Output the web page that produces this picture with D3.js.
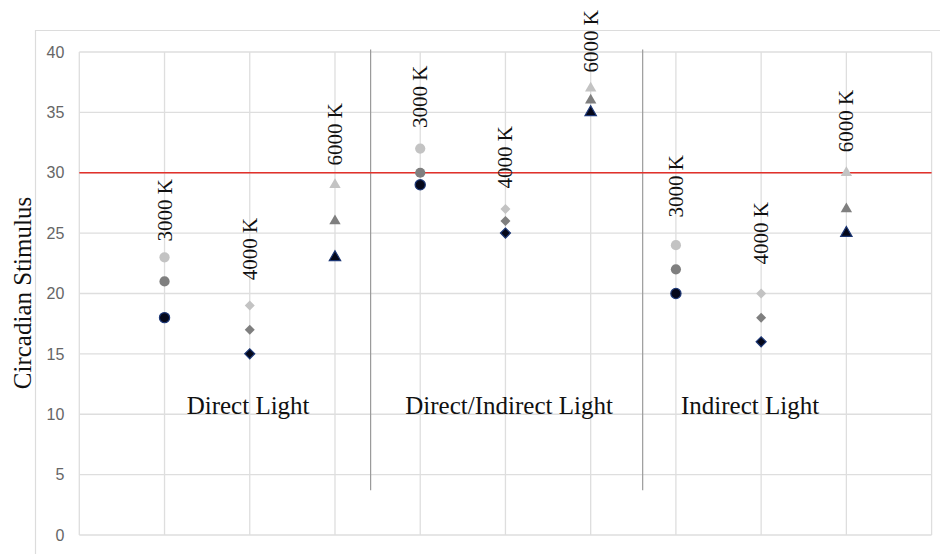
<!DOCTYPE html>
<html>
<head>
<meta charset="utf-8">
<script src="https://cdn.jsdelivr.net/npm/d3@7"></script>
<style>
  html, body { margin: 0; padding: 0; background: #fff; }
  svg { display: block; }
</style>
</head>
<body>
<svg id="chart" width="940" height="554"></svg>
<script>
// ---- data ----
const groups = ["Direct Light", "Direct/Indirect Light", "Indirect Light"];
const temps = ["3000 K", "4000 K", "6000 K", "3000 K", "4000 K", "6000 K", "3000 K", "4000 K", "6000 K"];
const columns = [1, 2, 3, 4, 5, 6, 7, 8, 9];
const seriesLight = [23, 19, 29, 32, 27, 37, 24, 20, 30];
const seriesMid   = [21, 17, 26, 30, 26, 36, 22, 18, 27];
const seriesDark  = [18, 15, 23, 29, 25, 35, 20, 16, 25];
const labelAt     = [24.3, 21.1, 30.6, 33.7, 28.7, 38.3, 26.3, 22.4, 31.7];
const groupLabelX = [1.26, 3.825, 7.06];
const groupLabelY = 10;
const dividers    = [3.418, 6.61];
const dividerRange = [3.7, 40.2];
const yTicks = [0, 5, 10, 15, 20, 25, 30, 35, 40];
const threshold = 30;
const yTitle = "Circadian Stimulus";

// ---- layout ----
const svg = d3.select("#chart");
const mLeft = 79.3, mRight = 931.6, mTop = 52, mBottom = 535;
const x = d3.scaleLinear().domain([0, 10]).range([mLeft, mRight]);
const y = d3.scaleLinear().domain([0, 40]).range([mBottom, mTop]);
const serif = "'Liberation Serif','Times New Roman',Times,serif";
const sans = "'Liberation Sans',Arial,Helvetica,sans-serif";

// outer frame
svg.append("line").attr("x1", 36).attr("x2", 940).attr("y1", 30.5).attr("y2", 30.5)
  .attr("stroke", "#dcdcdc").attr("stroke-width", 1.2);
svg.append("line").attr("x1", 35.5).attr("x2", 35.5).attr("y1", 30).attr("y2", 554)
  .attr("stroke", "#dcdcdc").attr("stroke-width", 1.2);

// horizontal grid
svg.append("g").selectAll("line").data(yTicks).join("line")
  .attr("x1", mLeft).attr("x2", mRight)
  .attr("y1", d => y(d)).attr("y2", d => y(d))
  .attr("stroke", "#dedede").attr("stroke-width", 1.3);

// vertical grid
svg.append("g").selectAll("line").data(d3.range(0, 11)).join("line")
  .attr("x1", d => x(d)).attr("x2", d => x(d))
  .attr("y1", mTop).attr("y2", mBottom)
  .attr("stroke", "#dedede").attr("stroke-width", 1.3);

// y axis tick labels
const yAxis = d3.axisLeft(y).tickValues(yTicks).tickSize(0).tickPadding(15);
const ga = svg.append("g").attr("transform", `translate(${mLeft},0)`).call(yAxis);
ga.select(".domain").remove();
ga.selectAll("text").attr("font-family", sans).attr("font-size", 16).attr("fill", "#666");

// y title
svg.append("text")
  .attr("transform", `translate(31,${(y(0) + y(40)) / 2 - 0.5}) rotate(-90)`)
  .attr("text-anchor", "middle")
  .attr("font-family", serif).attr("font-size", 25).attr("fill", "#111")
  .text(yTitle);

// dividers
svg.append("g").selectAll("line").data(dividers).join("line")
  .attr("x1", d => x(d)).attr("x2", d => x(d))
  .attr("y1", y(dividerRange[1])).attr("y2", y(dividerRange[0]))
  .attr("stroke", "#9a9a9a").attr("stroke-width", 1.2);

// threshold line
svg.append("line").attr("x1", mLeft).attr("x2", mRight)
  .attr("y1", y(threshold)).attr("y2", y(threshold))
  .attr("stroke", "#e2312b").attr("stroke-width", 1.3);

// markers
const shapeFor = i => [d3.symbolCircle, d3.symbolSquare, d3.symbolTriangle][i % 3];
const sizeFor = i => [82, 50, 56][i % 3];
const rotFor = i => (i % 3 === 1 ? 45 : 0);
const series = [
  { values: seriesLight, fill: "#c3c3c3", stroke: "none" },
  { values: seriesMid, fill: "#7f7f7f", stroke: "none" },
  { values: seriesDark, fill: "#05081a", stroke: "#1d3775" }
];
series.forEach(s => {
  svg.append("g").selectAll("path").data(columns).join("path")
    .attr("d", (c, i) => d3.symbol().type(shapeFor(i)).size(sizeFor(i))())
    .attr("transform", (c, i) => `translate(${x(c)},${y(s.values[i])}) rotate(${rotFor(i)})`)
    .attr("fill", s.fill)
    .attr("stroke", s.stroke).attr("stroke-width", 1.2);
});

// temperature labels
svg.append("g").selectAll("text").data(columns).join("text")
  .attr("transform", (c, i) => `translate(${x(c) + 7},${y(labelAt[i])}) rotate(-90)`)
  .attr("text-anchor", "start")
  .attr("font-family", serif).attr("font-size", 21).attr("fill", "#111")
  .text((c, i) => temps[i]);

// group labels
svg.append("g").selectAll("text").data(groups).join("text")
  .attr("x", (g, i) => x(groupLabelX[i]))
  .attr("y", y(groupLabelY))
  .attr("font-family", serif).attr("font-size", 25).attr("fill", "#111")
  .text(g => g);
</script>
</body>
</html>
